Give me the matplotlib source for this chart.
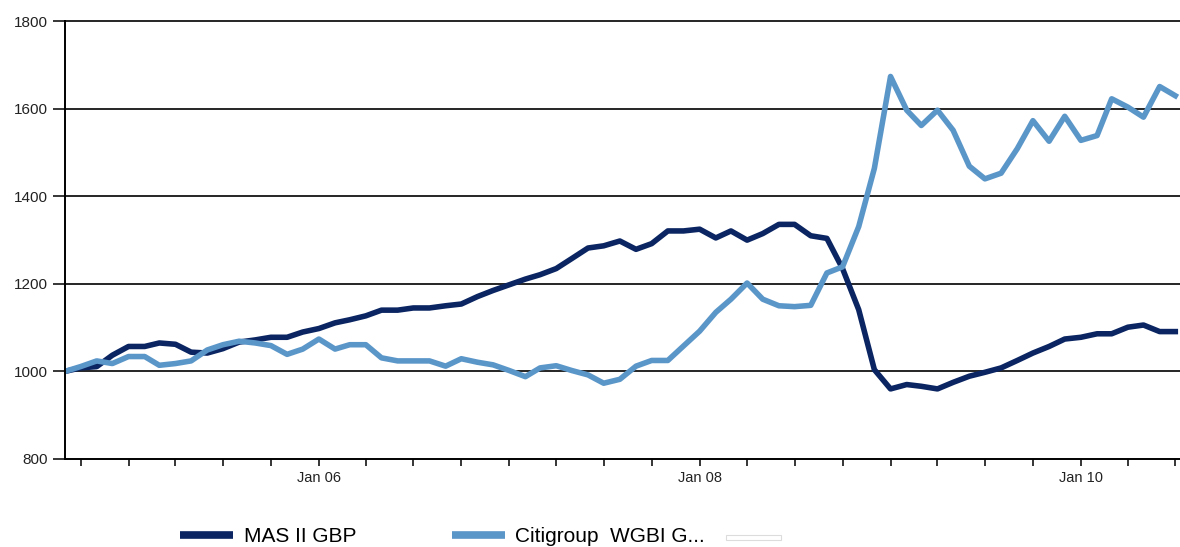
import numpy as np
import pandas as pd
import matplotlib
matplotlib.use("Agg")
import matplotlib.pyplot as plt
import matplotlib.dates as mdates
from matplotlib.lines import Line2D
from matplotlib.patches import Rectangle

plt.rcParams['font.family'] = ['Liberation Sans', 'DejaVu Sans']

# monthly index values, Sep 2004 .. Jul 2010
months = pd.date_range('2004-09-01', periods=71, freq='MS')
mas_gbp = [1000, 1008, 1011, 1037, 1057, 1057, 1065, 1062, 1044, 1042,
           1052, 1067, 1072, 1078, 1078, 1090, 1098, 1111, 1118, 1127,
           1140, 1140, 1145, 1145, 1150, 1154, 1171, 1185, 1198, 1211,
           1221, 1235, 1258, 1282, 1287, 1298, 1279, 1292, 1321, 1321,
           1325, 1305, 1321, 1300, 1315, 1336, 1336, 1310, 1304, 1235,
           1141, 1004, 960, 970, 966, 960, 975, 989, 998, 1008,
           1025, 1042, 1057, 1074, 1078, 1086, 1086, 1101, 1106, 1091,
           1091]
wgbi = [1000, 1011, 1024, 1018, 1034, 1034, 1014, 1018, 1024, 1049,
        1061, 1069, 1065, 1059, 1039, 1051, 1074, 1051, 1061, 1061,
        1031, 1024, 1024, 1024, 1012, 1029, 1021, 1015, 1002, 988,
        1008, 1013, 1002, 992, 973, 982, 1012, 1025, 1025, 1058,
        1092, 1135, 1165, 1202, 1165, 1150, 1148, 1151, 1225, 1239,
        1331, 1464, 1674, 1597, 1562, 1597, 1551, 1469, 1440, 1453,
        1509, 1573, 1526, 1583, 1528, 1539, 1623, 1604, 1581, 1651,
        1630]
series_names = ['MAS II GBP', 'Citigroup  WGBI G...']
y_ticks = [800, 1000, 1200, 1400, 1600, 1800]

dark = '#0a2562'
light = '#5b96c9'

fig = plt.figure(figsize=(11.8, 5.47), dpi=100)
ax = fig.add_axes([0.055, 0.161, 0.945, 0.8])

ax.plot(months, mas_gbp, color=dark, lw=4, solid_joinstyle='round')
ax.plot(months, wgbi, color=light, lw=4, solid_joinstyle='round')

ax.set_ylim(800, 1800)
ax.set_yticks(y_ticks)
ax.set_xlim(months[0], months[-1] + pd.Timedelta(days=9))

ax.xaxis.set_major_locator(mdates.MonthLocator(bymonth=[1, 4, 7, 10]))
def fmt(x, pos):
    d = mdates.num2date(x)
    if d.month == 1 and d.year % 2 == 0:
        return d.strftime('Jan %y')
    return ''
ax.xaxis.set_major_formatter(plt.FuncFormatter(fmt))

for y in y_ticks[1:]:
    ax.axhline(y, color='black', lw=1.2, zorder=0, clip_on=False)

for s in ['top', 'right']:
    ax.spines[s].set_visible(False)
for s in ['left', 'bottom']:
    ax.spines[s].set_linewidth(1.4)
    ax.spines[s].set_color('black')

ax.tick_params(axis='y', length=9, width=1.1, pad=3, labelsize=11, labelcolor='#222222')
ax.tick_params(axis='x', length=5, width=1.1, pad=4, labelsize=10.5, labelcolor='#222222')

handles = [
    Line2D([], [], color=dark, lw=5.5, solid_capstyle='butt'),
    Line2D([], [], color=light, lw=5.5, solid_capstyle='butt'),
]
fig.legend(handles, series_names, loc='center left',
           bbox_to_anchor=(180 / 1180, 1 - 537 / 547), ncol=2,
           frameon=False, fontsize=15, handlelength=2.55, handletextpad=0.5,
           columnspacing=4.6, borderpad=0, borderaxespad=0)
# empty third legend swatch
fig.patches.append(Rectangle((726 / 1180, 1 - 540 / 547), 55 / 1180, 5 / 547,
                             transform=fig.transFigure, facecolor='white',
                             edgecolor='#dcdcdc', lw=0.8))

plt.savefig('out.png', dpi=100)
